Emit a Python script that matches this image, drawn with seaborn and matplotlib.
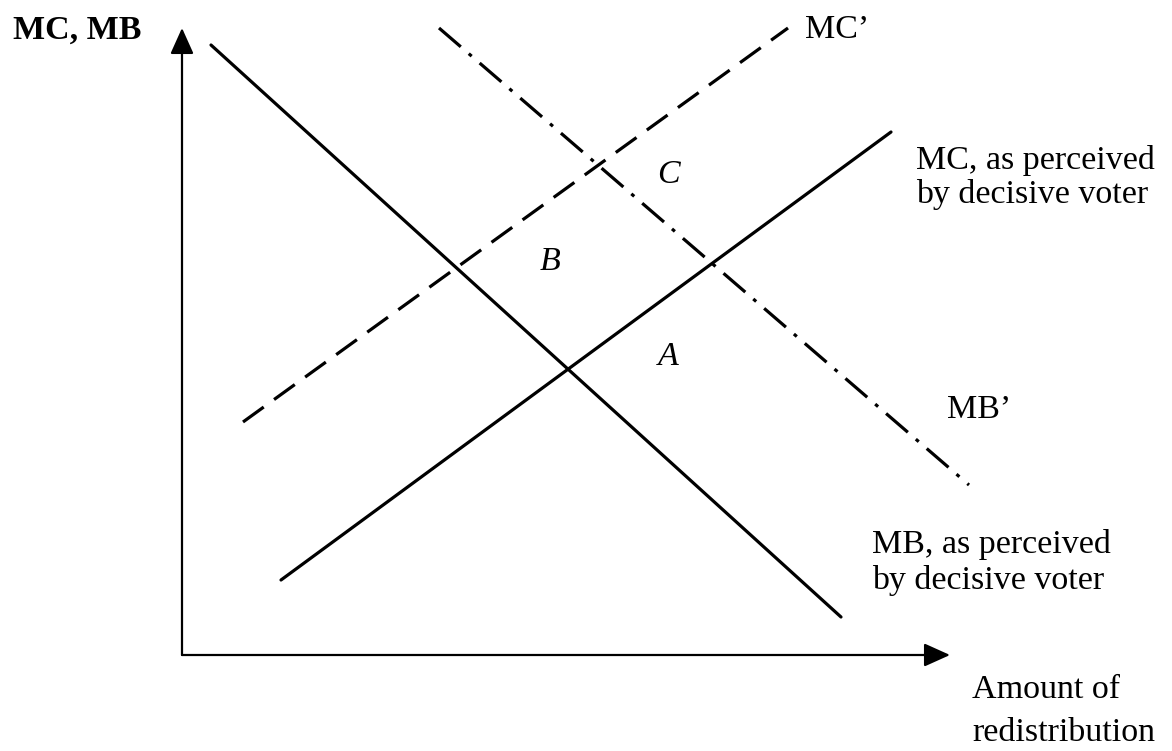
import matplotlib
matplotlib.use("Agg")
import matplotlib.pyplot as plt
import pandas as pd
import seaborn as sns

# Data (units: distance from the origin, y upward)
mb_x = [29, 659]
mb_y = [610, 38]
mc_x = [99, 709]
mc_y = [75, 523]
mc2_x = [61, 606]
mc2_y = [233, 627]
mb2_x = [257, 787]
mb2_y = [627, 170]

x_axis_end = 768
y_axis_end = 627

sns.set_theme(style="white")
plt.rcParams['font.family'] = ['Liberation Serif', 'DejaVu Serif']
plt.rcParams['text.color'] = 'black'

fig = plt.figure(figsize=(11.72, 7.51), dpi=100)
ax = fig.add_axes([0, 0, 1, 1])

lw = 2.3
sns.lineplot(x=mb_x, y=mb_y, ax=ax, color='black', lw=lw)
sns.lineplot(x=mc_x, y=mc_y, ax=ax, color='black', lw=lw)
sns.lineplot(x=mc2_x, y=mc2_y, ax=ax, color='black', lw=lw, dashes=(8, 4))
sns.lineplot(x=mb2_x, y=mb2_y, ax=ax, color='black', lw=lw, dashes=(9, 3.3, 1.2, 3.3))

# Axes with arrowheads
arrow = dict(arrowstyle='-|>,head_length=0.8,head_width=0.36', color='black', lw=1.6,
             mutation_scale=20, shrinkA=0, shrinkB=0)
ax.annotate('', xy=(0, y_axis_end), xytext=(0, 0), arrowprops=arrow)
ax.annotate('', xy=(x_axis_end, 0), xytext=(0, 0), arrowprops=arrow)

ax.set_xlim(-182, 990)
ax.set_ylim(-96, 655)
ax.axis('off')

fs = 24.5
ax.text(-169, 625, 'MC, MB', fontsize=fs, fontweight='bold', va='center', ha='left')
ax.text(623, 625, 'MC\u2019', fontsize=fs, va='center', ha='left')
ax.text(734, 495, 'MC, as perceived', fontsize=fs, va='center', ha='left')
ax.text(734, 460, 'by decisive voter', fontsize=fs, va='center', ha='left')
ax.text(486, 480, 'C', fontsize=fs, style='italic', va='center', ha='center')
ax.text(368, 393, 'B', fontsize=fs, style='italic', va='center', ha='center')
ax.text(486, 298, 'A', fontsize=fs, style='italic', va='center', ha='center')
ax.text(765, 245, 'MB\u2019', fontsize=fs, va='center', ha='left')
ax.text(690, 110, 'MB, as perceived', fontsize=fs, va='center', ha='left')
ax.text(690, 75, 'by decisive voter', fontsize=fs, va='center', ha='left')
ax.text(790, -35, 'Amount of', fontsize=fs, va='center', ha='left')
ax.text(790, -78, 'redistribution', fontsize=fs, va='center', ha='left')

fig.savefig('out.png', dpi=100, facecolor='white')
